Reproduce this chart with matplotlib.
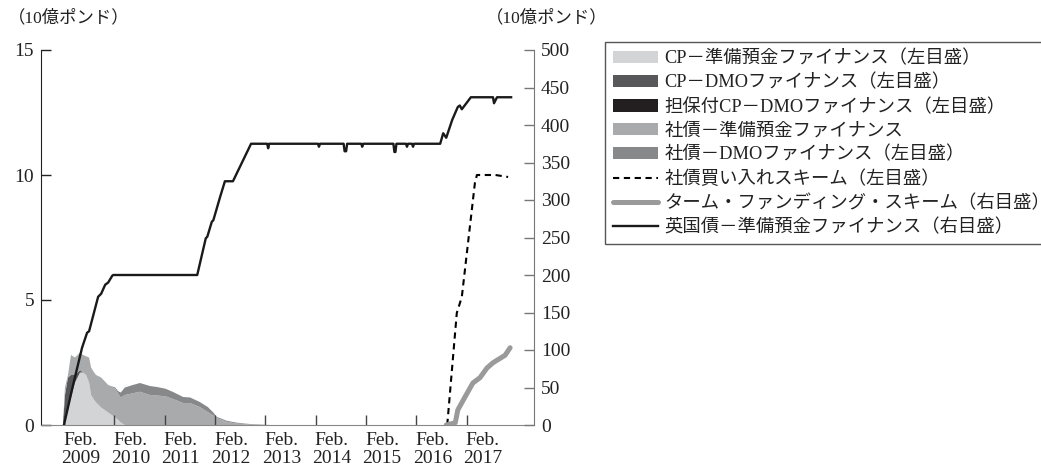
import matplotlib
matplotlib.use("Agg")
import matplotlib.pyplot as plt
from matplotlib.patches import Patch
from matplotlib.lines import Line2D

plt.rcParams['font.family'] = ['Liberation Serif', 'Noto Sans CJK JP', 'DejaVu Sans']

# ---------------- data (decimal years; "Feb. Y" tick = Y + 1/12) ----------------
area_t = [2009.06, 2009.10, 2009.16, 2009.22, 2009.30, 2009.40, 2009.46, 2009.52, 2009.58,
          2009.62, 2009.68, 2009.72, 2009.82, 2009.96, 2010.10, 2010.16, 2010.21, 2010.29,
          2010.45, 2010.59, 2010.79, 2010.93, 2011.10, 2011.25, 2011.45, 2011.59, 2011.78,
          2011.94, 2012.05, 2012.12, 2012.18, 2012.30, 2012.44, 2012.60, 2012.78, 2013.00,
          2013.18]
cp_reserves = [0, 0.3, 0.6, 1.1, 1.7, 2.1, 2.1, 2.0, 1.7, 1.2, 1.0, 0.9, 0.7, 0.5, 0.3, 0.2,
               0.1, 0, 0, 0, 0, 0, 0, 0, 0, 0, 0, 0, 0, 0, 0, 0, 0, 0, 0, 0, 0]
cp_dmo = [0, 0.9, 1.3, 0.9, 0.3, 0.1, 0, 0, 0, 0, 0, 0, 0, 0, 0, 0, 0, 0, 0, 0, 0, 0, 0, 0,
          0, 0, 0, 0, 0, 0, 0, 0, 0, 0, 0, 0, 0]
secured_cp_dmo = [0, 0, 0, 0, 0, 0, 0, 0, 0, 0, 0, 0, 0, 0, 0, 0, 0, 0, 0, 0, 0, 0, 0, 0,
                  0, 0, 0, 0, 0, 0, 0, 0, 0, 0, 0, 0, 0]
cb_reserves = [0, 0.3, 0.1, 0.8, 0.7, 0.7, 0.7, 0.75, 1.0, 1.1, 1.1, 1.1, 1.2, 1.1, 1.15,
               1.05, 1.0, 1.2, 1.27, 1.33, 1.2, 1.18, 1.15, 1.04, 0.88, 0.88, 0.72, 0.52,
               0.38, 0.28, 0.24, 0.14, 0.08, 0.04, 0.02, 0.01, 0]
cb_dmo = [0, 0, 0, 0, 0, 0, 0, 0, 0, 0, 0, 0, 0, 0, 0.05, 0.1, 0.2, 0.3, 0.33, 0.35, 0.36,
          0.34, 0.3, 0.28, 0.24, 0.22, 0.2, 0.2, 0.12, 0.04, 0.04, 0.04, 0.04, 0.03, 0.02,
          0.01, 0]

cbps_t = [2016.70, 2016.89, 2016.99, 2017.25, 2017.29, 2017.66, 2017.91]
cbps_v = [0, 4.48, 5.12, 9.68, 10.0, 10.0, 9.92]

tfs_t = [2016.68, 2016.86, 2016.91, 2017.05, 2017.21, 2017.35, 2017.49, 2017.61, 2017.85, 2017.95]
tfs_v = [0, 3, 20, 37, 56, 63, 76, 83, 93, 103]

gilt_t = [2009.08, 2009.25, 2009.44, 2009.54, 2009.58, 2009.76, 2009.82, 2009.90, 2009.96,
          2010.04, 2010.06, 2011.73, 2011.90, 2011.93, 2012.02, 2012.05, 2012.18, 2012.28,
          2012.44, 2012.80, 2013.12, 2013.14, 2013.16, 2014.13, 2014.15, 2014.17, 2014.64,
          2014.66, 2014.69, 2014.71, 2014.99, 2015.01, 2015.03, 2015.63, 2015.65, 2015.67,
          2015.69, 2015.88, 2015.90, 2015.92, 2016.00, 2016.02, 2016.04, 2016.56, 2016.62,
          2016.68, 2016.80, 2016.91, 2016.95, 2016.99, 2017.17, 2017.61, 2017.63, 2017.69,
          2017.97]
gilt_v = [0, 50, 103, 123, 125, 171, 175, 187, 190, 199, 200, 200, 249, 251, 271, 273, 303,
          325, 325, 375, 375, 369, 375, 375, 371, 375, 375, 365, 365, 375, 375, 371, 375, 375,
          364, 364, 375, 375, 371, 375, 375, 371, 375, 375, 389, 383, 407, 424, 426, 421, 437,
          437, 429, 437, 437]

years = [2009, 2010, 2011, 2012, 2013, 2014, 2015, 2016, 2017]
tick_labels = [f"Feb.\n{y}" for y in years]
left_ticks = [0, 5, 10, 15]
right_ticks = [0, 50, 100, 150, 200, 250, 300, 350, 400, 450, 500]

legend_labels = ["CP－準備預金ファイナンス（左目盛）",
                 "CP－DMOファイナンス（左目盛）",
                 "担保付CP－DMOファイナンス（左目盛）",
                 "社債－準備預金ファイナンス",
                 "社債－DMOファイナンス（左目盛）",
                 "社債買い入れスキーム（左目盛）",
                 "ターム・ファンディング・スキーム（右目盛）",
                 "英国債－準備預金ファイナンス（右目盛）"]
unit_label = "（10億ポンド）"

# ---------------- styling ----------------
c_cpR, c_cpD, c_sec, c_cbR, c_cbD = "#d3d4d6", "#58585a", "#231f20", "#a9aaac", "#87888a"
FS = 12.5
TFS = 14
LFS = 13.2

fig = plt.figure(figsize=(10.41, 4.68), dpi=100)
ax = fig.add_axes([41 / 1041, 1 - 425 / 468, (534 - 41) / 1041, (425 - 50) / 468])
ax2 = ax.twinx()

ax.stackplot(area_t, cp_reserves, cp_dmo, secured_cp_dmo, cb_reserves, cb_dmo,
             colors=[c_cpR, c_cpD, c_sec, c_cbR, c_cbD], linewidth=0, zorder=1)
ax.plot(cbps_t, cbps_v, color="black", lw=1.5, dashes=(3, 2.2), zorder=3)

ax2.plot(tfs_t, tfs_v, color="#9a9a9a", lw=3.6, solid_capstyle="round",
         solid_joinstyle="round", zorder=3)
ax2.plot(gilt_t, gilt_v, color="#1a1a1a", lw=1.7, zorder=4)

x0, x1 = 2008.624, 2018.425
ax.set_xlim(x0, x1)
ax.set_ylim(0, 15)
ax2.set_ylim(0, 500)

feb = [y + 1 / 12 for y in years]
ax.set_xticks(feb)
ax.set_xticklabels([])
ax.set_xticks([f + 0.32 for f in feb], minor=True)
ax.set_xticklabels(tick_labels, minor=True, fontsize=TFS, linespacing=1.05, color="#222")
ax.tick_params(axis="x", which="major", direction="in", length=7, width=1, color="#444")
ax.tick_params(axis="x", which="minor", length=0, pad=5)

ax.set_yticks(left_ticks)
ax.set_yticklabels([str(v) for v in left_ticks], fontsize=TFS, color="#222")
ax.tick_params(axis="y", direction="in", length=7, width=1, color="#222", pad=5)

ax2.set_yticks(right_ticks)
ax2.set_yticklabels([str(v) for v in right_ticks], fontsize=TFS, color="#222")
ax2.tick_params(axis="y", direction="in", length=7, width=1, color="#777", pad=5)

for s in ["top", "right"]:
    ax.spines[s].set_visible(False)
ax.spines["left"].set_color("#222")
ax.spines["bottom"].set_color("#888")
for s in ["top", "left", "bottom"]:
    ax2.spines[s].set_visible(False)
ax2.spines["right"].set_color("#777")

fig.text(8 / 1041, 1 - 18 / 468, unit_label, fontsize=FS, va="center", ha="left", color="#222")
fig.text(486 / 1041, 1 - 18 / 468, unit_label, fontsize=FS, va="center", ha="left", color="#222")

handles = [Patch(facecolor=c_cpR, edgecolor="none"),
           Patch(facecolor=c_cpD, edgecolor="none"),
           Patch(facecolor=c_sec, edgecolor="none"),
           Patch(facecolor=c_cbR, edgecolor="none"),
           Patch(facecolor=c_cbD, edgecolor="none"),
           Line2D([], [], color="black", lw=1.5, dashes=(3, 2.2)),
           Line2D([], [], color="#9a9a9a", lw=3.6, solid_capstyle="round"),
           Line2D([], [], color="#1a1a1a", lw=1.7)]
leg = fig.legend(handles, legend_labels, loc="upper left",
                 bbox_to_anchor=(605 / 1041, 1 - 42 / 468), borderaxespad=0,
                 fontsize=LFS, handlelength=2.45, handleheight=0.65, handletextpad=0.35,
                 labelspacing=0.36, borderpad=0.45, fancybox=False, framealpha=1)
leg.get_frame().set_edgecolor("#555")
leg.get_frame().set_linewidth(1.0)
for t in leg.get_texts():
    t.set_color("#222")

fig.savefig("out.png", dpi=100)
